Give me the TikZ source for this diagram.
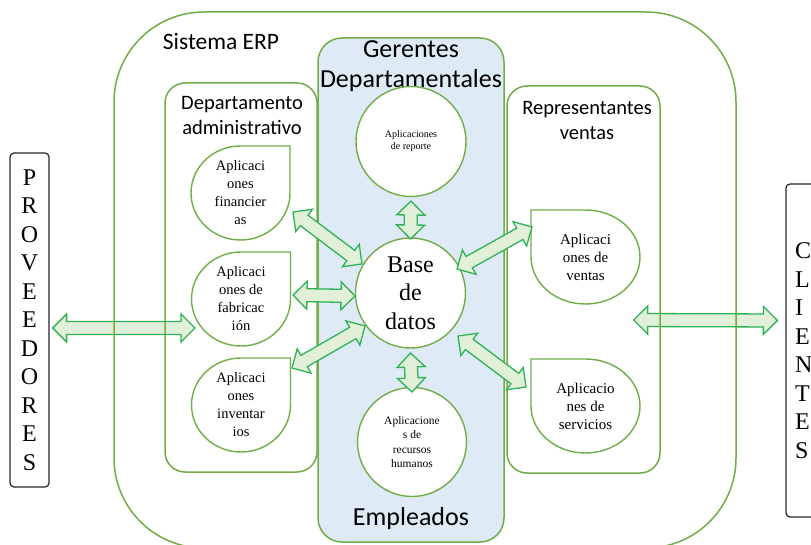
\documentclass[tikz,border=0pt]{standalone}
\usepackage{fontspec}
\setmainfont{Liberation Serif}
\newfontfamily\calibri{Carlito}
\usetikzlibrary{calc}
\usetikzlibrary{shapes.geometric}

\pgfdeclarelayer{fondo}
\pgfdeclarelayer{medio}
\pgfsetlayers{fondo,medio,main}

\definecolor{verdecaja}{RGB}{112,173,71}
\definecolor{verdeflecha}{RGB}{46,178,86}
\definecolor{rellenoflecha}{RGB}{226,240,217}
\definecolor{azulcaja}{RGB}{222,235,247}

\tikzset{
  caja/.style={draw=verdecaja, line width=1.5pt, rounded corners=20pt, inner sep=0pt},
  titulo/.style={font=\calibri\fontsize{20.5}{25}\selectfont, align=center, inner sep=0pt},
  grande/.style={font=\calibri\fontsize{26}{30}\selectfont, align=center, inner sep=0pt},
  app/.style={ellipse, minimum height=94pt, inner sep=0pt, align=center},
  gota/.style={draw=verdecaja, line width=1.4pt, fill=white},
  circulo/.style={circle, draw=verdecaja, line width=1.4pt, fill=white, inner sep=0pt, align=center},
  flecha/.style={draw=verdeflecha, fill=rellenoflecha, line width=1.3pt, line join=miter},
  extremo/.style={draw=black!85, line width=1.2pt, rounded corners=4pt, inner sep=0pt,
    font=\fontsize{24}{28.5}\selectfont}
}

% flecha doble de bloque entre dos puntos
\newcommand{\dflecha}[2]{%
  \path[flecha] let \p1=(#1), \p2=(#2),
    \n1={atan2(\y2-\y1,\x2-\x1)}, \n2={veclen(\x2-\x1,\y2-\y1)} in
    [shift={(\p1)}, rotate=\n1]
    (0pt,0pt) -- (14pt,14pt) -- (14pt,6.5pt) -- (\n2-14pt,6.5pt) -- (\n2-14pt,14pt)
    -- (\n2,0pt) -- (\n2-14pt,-14pt) -- (\n2-14pt,-6.5pt) -- (14pt,-6.5pt)
    -- (14pt,-14pt) -- cycle;}

\begin{document}
\begin{tikzpicture}[x=1pt, y=-1pt]
\useasboundingbox (0,0) rectangle (811,545);

% cajas
\node[caja, rounded corners=90pt, minimum width=622pt, minimum height=536pt] (erp) at (425,280) {};
\node[caja, minimum width=152pt, minimum height=389pt] (depto) at (241,277.5) {};
\node[caja, minimum width=153pt, minimum height=387pt] (repr) at (583.5,279.5) {};
\node[caja, rounded corners=24pt, fill=azulcaja, minimum width=186pt, minimum height=504pt] (geren) at (411,290) {};

\node[titulo, font=\calibri\fontsize{23.5}{28}\selectfont] (tsis) at (221,42) {Sistema ERP};
\node[titulo] (tdepto) at (242,115.5) {Departamento\\administrativo};
\node[titulo] (trepr) at (587,120.5) {Representantes\\ventas};
\node[grande] (tger) at (411,66.5) {Gerentes\\Departamentales};
\node[grande] (temp) at (411,519) {Empleados};

% aplicaciones
\node[app, minimum width=99pt, font=\fontsize{14.5}{18}\selectfont] (fin) at (240.5,193) {Aplicaci\\ones\\financier\\as};
\node[app, minimum width=99pt, font=\fontsize{14.5}{18}\selectfont] (fab) at (241,299) {Aplicaci\\ones de\\fabricac\\ión};
\node[app, minimum width=99pt, font=\fontsize{14.5}{18}\selectfont] (inv) at (241,405) {Aplicaci\\ones\\inventar\\ios};
\node[app, minimum width=109pt, font=\fontsize{15}{18}\selectfont] (ven) at (585.5,257) {Aplicaci\\ones de\\ventas};
\node[app, minimum width=109pt, font=\fontsize{15}{18}\selectfont] (ser) at (585.5,406) {Aplicacio\\nes de\\servicios};

\begin{pgfonlayer}{medio}
\foreach \g in {fin,fab,inv}
  \draw[gota] ([yshift=47pt]\g.center) arc[start angle=90, end angle=360, x radius=49.5pt, y radius=47pt]
    -- ++(0pt,47pt) -- cycle;
\foreach \g in {ven,ser}
  \draw[gota] ([xshift=-54.5pt]\g.center) arc[start angle=180, end angle=450, x radius=54.5pt, y radius=47pt]
    -- ++(-54.5pt,0pt) -- cycle;
\end{pgfonlayer}

\node[circulo, minimum size=110pt, font=\fontsize{10}{12}\selectfont] (rep) at (411,141.5) {Aplicaciones\\de reporte};
\node[circulo, minimum size=110pt, font=\fontsize{24}{28.5}\selectfont] (bd) at (410.5,293) {Base\\de\\datos};
\node[circulo, minimum size=109pt, font=\fontsize{11.5}{14.3}\selectfont] (rec) at (412,442) {Aplicacione\\s de\\recursos\\humanos};

% proveedores y clientes
\node[extremo, minimum width=39pt, minimum height=334pt, align=center] (prov) at (29.5,320)
  {P\\R\\O\\V\\E\\E\\D\\O\\R\\E\\S};
\node[extremo, text width=32pt, inner xsep=9pt, minimum height=333pt, align=left] (cli) at (811,350.5)
  {C\\L\\I\\E\\N\\T\\E\\S};

% flechas
\begin{pgfonlayer}{fondo}
\dflecha{$(prov.east)+(3pt,-8pt)$}{$(fab.center)+(-46pt,-29pt)$}
\dflecha{$(repr.east)+(-27pt,-40.5pt)$}{$(cli.west)+(-8pt,30pt)$}
\end{pgfonlayer}
\dflecha{$(fin.center)+(52.5pt,-19pt)$}{$(bd.center)+(-48.5pt,29pt)$}
\dflecha{$(fab.center)+(52pt,4pt)$}{$(bd.center)+(-55.5pt,-3pt)$}
\dflecha{$(inv.center)+(51pt,37pt)$}{$(bd.center)+(-45.5pt,-33pt)$}
\dflecha{$(rep.center)+(0pt,-59.5pt)$}{$(bd.center)+(0pt,54pt)$}
\dflecha{$(bd.center)+(0pt,-60pt)$}{$(rec.center)+(0pt,50pt)$}
\dflecha{$(ven.center)+(-53.5pt,30pt)$}{$(bd.center)+(46.5pt,24pt)$}
\dflecha{$(ser.center)+(-59.5pt,19pt)$}{$(bd.center)+(47.5pt,-43pt)$}
\end{tikzpicture}
\end{document}
